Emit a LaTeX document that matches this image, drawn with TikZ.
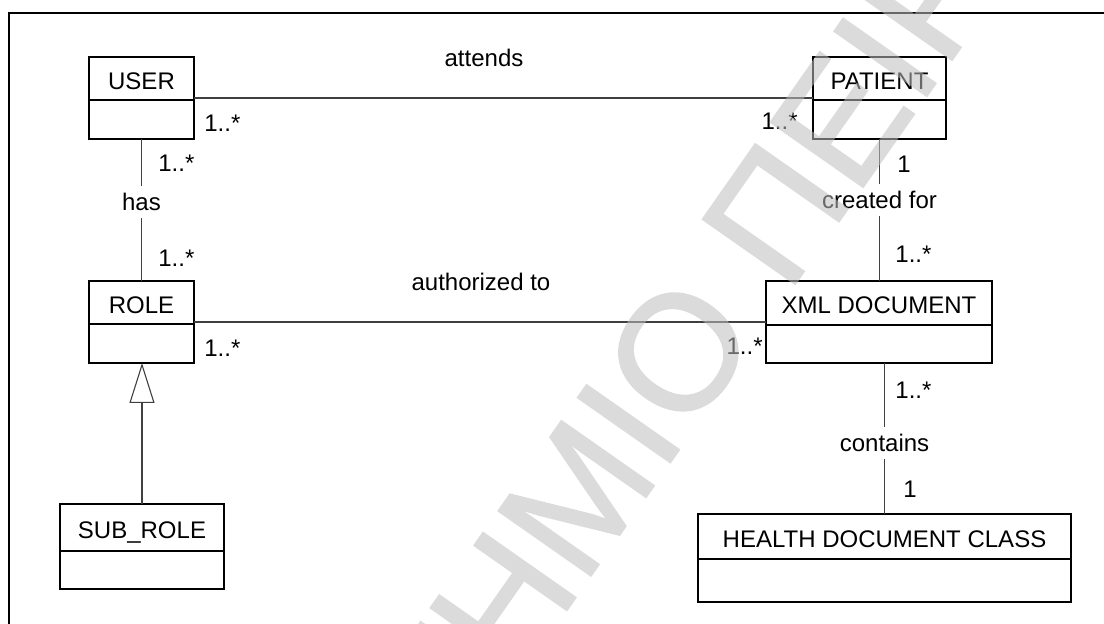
\documentclass[tikz,border=0pt]{standalone}
\usepackage{fontspec}
\setmainfont{Liberation Sans}
\newfontfamily\wmfont[FakeBold=1.2]{Liberation Sans}
\usetikzlibrary{arrows.meta}
\definecolor{wmgray}{RGB}{190,190,190}
\tikzset{
  clsbox/.style={draw=black, line width=0.75pt, inner sep=0pt, outer sep=0pt},
  clstext/.style={font=\fontsize{12}{14}\selectfont, anchor=base, inner sep=0pt},
  divline/.style={draw=black, line width=0.75pt},
  assoc/.style={draw=black!75, line width=0.55pt},
  lbl/.style={font=\fontsize{12}{14}\selectfont, inner sep=0pt},
  gaplbl/.style={font=\fontsize{12}{14}\selectfont, fill=white, inner xsep=1pt, inner ysep=3.6pt},
  wmtext/.style={font=\wmfont\fontsize{82}{90}\selectfont, text=wmgray, inner sep=0pt, rotate=55},
  frame/.style={draw=black, line width=1.2pt},
}
\newcommand\umlcls[7]{%
  \node[clsbox, minimum width={#4*0.5pt}, minimum height={(#5+#6)*0.5pt}, anchor=north] (#1) at (#2,#3) {};
  \node[clstext] (#1-name) at (#2,{#3+#5/2+11}) {#7};
  \draw[divline] ([yshift={-#5*0.5pt}]#1.north west) -- ([yshift={-#5*0.5pt}]#1.north east);
}
\begin{document}
\begin{tikzpicture}[x=0.5pt,y=-0.5pt]
\useasboundingbox (0,0) rectangle (1104,624);
\begin{scope}
\clip (0,0) rectangle (1104,624);
\draw[frame] (9,13) rectangle (1130,660);
% classes
\umlcls{user}{141.5}{57}{105}{43}{39}{USER}
\umlcls{patient}{879.5}{57}{133}{43}{39}{PATIENT}
\umlcls{role}{141.5}{281}{105}{43}{39}{ROLE}
\umlcls{xml}{879}{281}{226}{44}{38}{XML DOCUMENT}
\umlcls{subrole}{142}{504}{164}{47}{38}{SUB\_ROLE}
\umlcls{health}{884.5}{514}{373}{45}{43}{HEALTH DOCUMENT CLASS}
% connectors
\draw[assoc] (user) -- (patient);
\draw[assoc] (role) -- (xml);
\draw[assoc] (user) -- (role);
\draw[assoc] (patient.south) -- (patient.south |- xml.north);
\draw[assoc] (xml.south -| health.north) -- (health.north);
\draw[assoc, -{Triangle[length=20pt, width=12.5pt, fill=white]}] (subrole.north) -- (subrole.north |- role.south);
% labels
\node[lbl, anchor=base] (l-attends) at (484,67) {attends};
\node[lbl, anchor=base] (l-auth) at (481,291) {authorized to};
\node[lbl, anchor=base west] (m1) at (204,132) {1..*};
\node[lbl, anchor=base west] (m2) at (158,172) {1..*};
\node[gaplbl] (l-has) at (141.5,202) {has};
\node[lbl, anchor=base west] (m3) at (158,267) {1..*};
\node[lbl, anchor=base east] (m4) at (798,130) {1..*};
\node[lbl, anchor=base west] (m5) at (897,173) {1};
\node[gaplbl] (l-created) at (879.5,200) {created for};
\node[lbl, anchor=base west] (m6) at (895,263) {1..*};
\node[lbl, anchor=base west] (m7) at (204,357) {1..*};
\node[lbl, anchor=base east] (m8) at (763,355) {1..*};
\node[lbl, anchor=base west] (m9) at (895,399) {1..*};
\node[gaplbl] (l-contains) at (884.5,443) {contains};
\node[lbl, anchor=base west] (m10) at (903,498) {1};
% watermark
\begin{scope}[transparency group, opacity=0.55]
\node[wmtext, anchor=base east] (wmA) at (688,437) {ΠΑΝΕΠΙΣΤΗΜΙ};
\node[wmtext, anchor=base west] (wmB) at (688,437) {Ο ΠΕΙΡΑΙΩΣ};
\end{scope}
\end{scope}
\end{tikzpicture}
\end{document}
